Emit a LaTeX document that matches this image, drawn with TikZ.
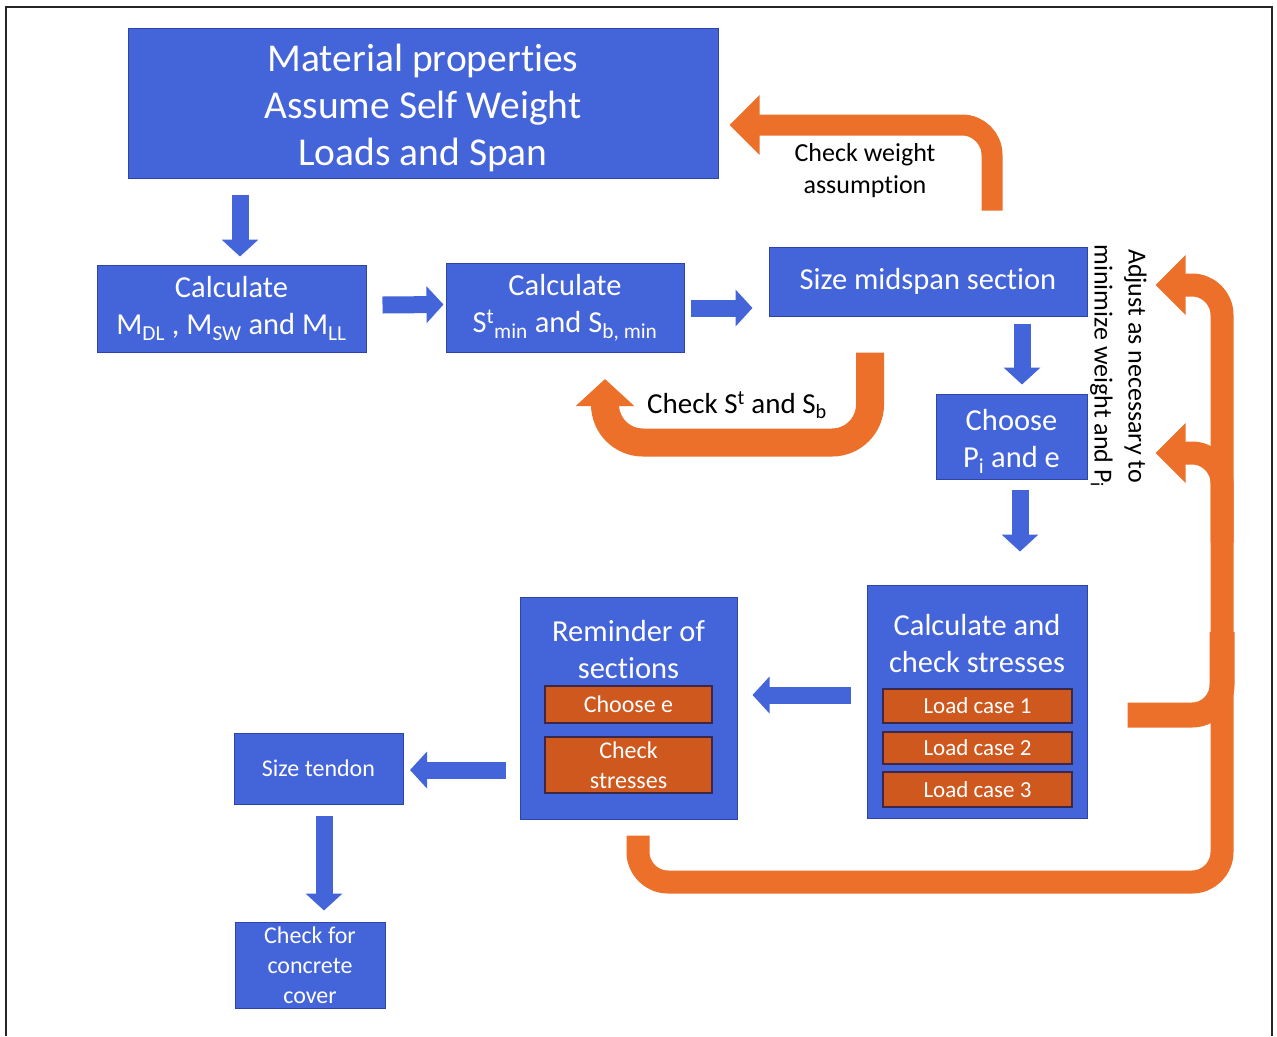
\documentclass[tikz,border=0pt]{standalone}
\usepackage{fontspec}
\setmainfont{Carlito}[Ligatures=NoCommon]
\usetikzlibrary{arrows.meta,calc}
\definecolor{boxblue}{RGB}{68,100,218}
\definecolor{edgeblue}{RGB}{45,68,168}
\definecolor{arroworange}{RGB}{236,112,42}
\definecolor{caseorange}{RGB}{206,88,30}
\definecolor{caseedge}{RGB}{60,40,70}
\begin{document}
\begin{tikzpicture}
[x=1pt,y=-1pt,
 box/.style={draw=edgeblue,line width=1pt,fill=boxblue,text=white,align=center,inner sep=0pt},
 case/.style={draw=caseedge,line width=1.3pt,fill=caseorange,text=white,align=center,inner sep=0pt,font=\fontsize{23}{29}\selectfont},
 barrow/.style={draw=boxblue,line width=17pt,-{Triangle[width=36pt,length=17pt]}},
 oarrow/.style={draw=arroworange,rounded corners=30pt,-{Triangle[width=58pt,length=30pt]}},
 big/.style={font=\fontsize{39.5}{47}\selectfont},
 mid/.style={font=\fontsize{30.5}{37}\selectfont},
 small/.style={font=\fontsize{24}{30}\selectfont},
 note/.style={text=black,align=center}]
\fill[white] (0,0) rectangle (1277,1036);
\draw[line width=1.5pt,black!85] (6,1036) -- (6,7) -- (1272,7) -- (1272,1036);

\node[box,big,minimum width=590pt,minimum height=150pt] (mat) at (423,103) {\raisebox{-5pt}[\height][\depth]{\parbox{580pt}{\centering Material properties\\Assume Self Weight\\Loads and Span}}};
\node[box,mid,minimum width=269pt,minimum height=87pt] (calcM) at (231.5,308.5) {Calculate\\M\textsubscript{DL} , M\textsubscript{SW} and M\textsubscript{LL}};
\node[box,mid,minimum width=238pt,minimum height=89pt] (calcS) at (565,308) {Calculate\\S\textsuperscript{t}\textsubscript{min} and S\textsubscript{b, min}};
\node[box,mid,minimum width=318pt,minimum height=69pt] (size) at (928,281.5) {Size midspan section};
\node[box,mid,minimum width=151pt,minimum height=85pt] (choose) at (1011.5,436.5) {\raisebox{-5pt}[\height][\depth]{\parbox{145pt}{\centering Choose\\P\textsubscript{i} and e}}};

\node[box,minimum width=220pt,minimum height=233pt] (calcchk) at (977,701.5) {};
\node[mid,text=white,align=center] (calcchkt) at (977,644) {Calculate and\\check stresses};
\node[case,minimum width=189pt,minimum height=34pt] (lc1) at (977.5,706) {Load case 1};
\node[case,minimum width=189pt,minimum height=32pt] (lc2) at (977.5,748) {Load case 2};
\node[case,minimum width=189pt,minimum height=35pt] (lc3) at (977.5,789.5) {Load case 3};

\node[box,minimum width=217pt,minimum height=222pt] (rem) at (628.5,708) {};
\node[mid,text=white,align=center] (remt) at (628.5,650) {Reminder of\\sections};
\node[case,font=\fontsize{24}{30}\selectfont,minimum width=167pt,minimum height=37pt] (choosee) at (628.5,704.5) {Choose e};
\node[case,font=\fontsize{24}{30}\selectfont,minimum width=167pt,minimum height=56pt] (chkstr) at (628.5,765) {Check\\stresses};

\node[box,small,minimum width=169pt,minimum height=71pt] (tendon) at (318.5,768.5) {Size tendon};
\node[box,small,minimum width=150pt,minimum height=86pt] (cover) at (310,965) {Check for\\concrete\\cover};

\draw[barrow] ($(mat.south -| calcM.north)+(8.5,16)$) -- ($(calcM.north)+(8.5,-8)$);
\draw[barrow] ($(calcM.east)+(16,-3.5)$) -- ($(calcS.west)+(-2,-3.5)$);
\draw[barrow] ($(calcS.east)+(6,0)$) -- ($(size.west |- calcS.east)+(-16,0)$);
\draw[barrow] ($(size.south -| choose.north)+(10.5,7)$) -- ($(choose.north)+(10.5,-9)$);
\draw[barrow] ($(choose.south)+(8.5,10)$) -- ($(calcchk.north -| choose.south)+(8.5,-33)$);
\draw[barrow] ($(calcchk.west)+(-16,-6.5)$) -- ($(rem.east |- calcchk.west)+(15,-6.5)$);
\draw[barrow] ($(rem.west |- tendon.east)+(-14,1.5)$) -- ($(tendon.east)+(6.5,1.5)$);
\draw[barrow] ($(tendon.south -| cover.north)+(14,11)$) -- ($(cover.north)+(14,-11)$);

\draw[oarrow,line width=21pt] ($(size.north)+(64,-36)$) |- ($(mat.east)+(11,22)$);
\draw[oarrow,line width=28pt,rounded corners=38pt,-{Triangle[width=57pt,length=27pt]}] ($(size.south)+(-58,36)$) -- ++(0,90) -| ($(calcS.south)+(40,26)$);

\coordinate (rb) at (1222,882);
\draw[draw=arroworange,line width=25pt,rounded corners=30pt] ($(calcchk.east)+(40,13.5)$) -| ($(rb)+(0,-250)$);
\draw[oarrow,line width=23pt] ($(rem.south)+(9.5,16)$) |- (rb) |- ($(size.east)+(68,3.5)$);
\draw[oarrow,line width=23pt] ($(rb)+(0,-340)$) |- ($(choose.east)+(68,16.5)$);

\node[note,font=\fontsize{26}{32}\selectfont] (wtxt) at (865,171) {Check weight\\assumption};
\node[note,font=\fontsize{29}{35}\selectfont] (sbtxt) at (737,405) {Check S\textsuperscript{t} and S\textsubscript{b}};
\node[note,rotate=-90,font=\fontsize{26}{34}\selectfont] (adj) at (1118.5,366) {Adjust as necessary to\\minimize weight and P\textsubscript{i}};
\end{tikzpicture}
\end{document}
